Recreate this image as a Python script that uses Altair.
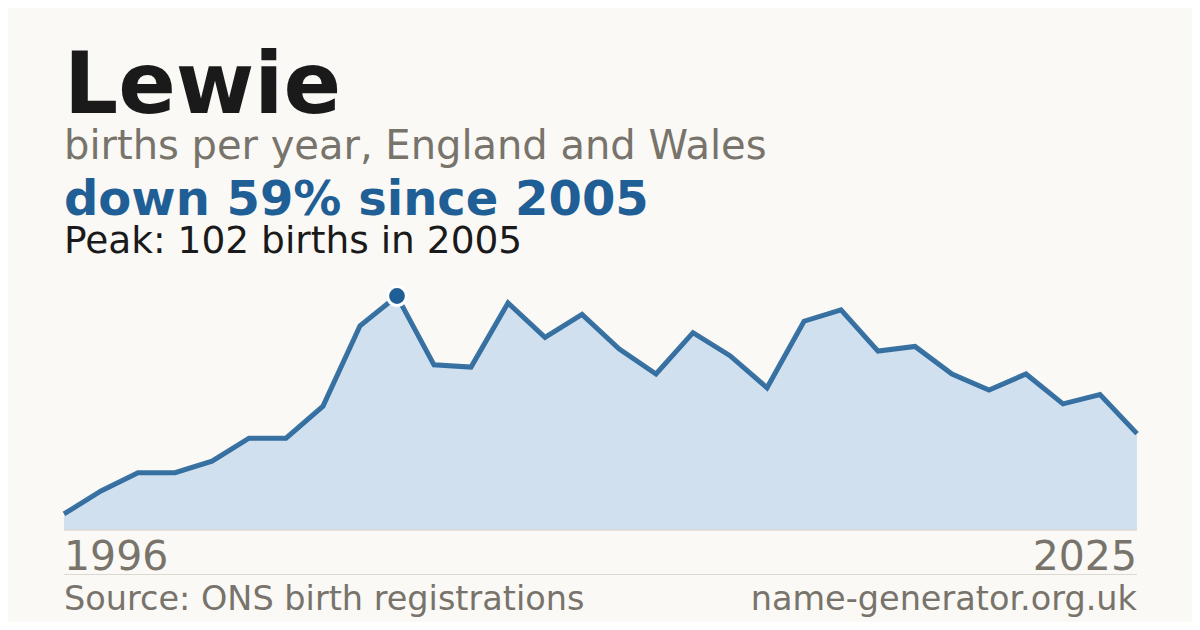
import altair as alt
import pandas as pd

name = "Lewie"
years = list(range(1996, 2026))
births = [7, 17, 25, 25, 30, 40, 40, 54, 89, 102,
          72, 71, 99, 84, 94, 79, 68, 86, 76, 62,
          91, 96, 78, 80, 68, 61, 68, 55, 59, 42]

subtitle = "births per year, England and Wales"
source = "Source: ONS birth registrations"
site = "name-generator.org.uk"

peak_val = max(births)
peak_year = years[births.index(peak_val)]
change = round((peak_val - births[-1]) / peak_val * 100)
headline = f"down {change}% since {peak_year}"
peak_text = f"Peak: {peak_val} births in {peak_year}"

df = pd.DataFrame({"year": years, "births": births})
peak_df = df[df["births"] == peak_val]

W, H = 1073, 234
FONT = "DejaVu Sans"
GREY = "#78736b"
BLUE = "#1f5f96"
DARK = "#1a1a1a"

x = alt.X("year:Q", scale=alt.Scale(domain=[years[0], years[-1]], nice=False, zero=False), axis=None)
y = alt.Y("births:Q", scale=alt.Scale(domain=[0, peak_val], nice=False), axis=None)

base = alt.Chart(df)
area = base.mark_area(color="#d0e0ef", opacity=1).encode(x=x, y=y)
line = base.mark_line(color=BLUE, strokeWidth=5, opacity=0.88).encode(x=x, y=y)
halo = alt.Chart(peak_df).mark_circle(size=480, color="white", opacity=1).encode(x=x, y=y)
point = alt.Chart(peak_df).mark_circle(size=250, color=BLUE, opacity=1).encode(x=x, y=y)

baseline = alt.Chart(pd.DataFrame({"a": [0]})).mark_rule(color="#dcd9d2", strokeWidth=1.5).encode(
    x=alt.value(0), x2=alt.value(W), y=alt.value(H))
sep = alt.Chart(pd.DataFrame({"a": [0]})).mark_rule(color="#dcd9d2", strokeWidth=1).encode(
    x=alt.value(0), x2=alt.value(W), y=alt.value(278.5))


def txt(t, yv, size, color, weight="normal", align="left", xv=0):
    return alt.Chart(pd.DataFrame({"t": [t]})).mark_text(
        font=FONT, fontSize=size, color=color, fontWeight=weight, align=align, baseline="alphabetic"
    ).encode(text="t:N", x=alt.value(xv), y=alt.value(yv))


texts = [
    txt(name, -183.5, 85, DARK, "bold"),
    txt(subtitle, -137, 40, GREY),
    txt(headline, -81, 48, BLUE, "bold"),
    txt(peak_text, -43, 37.5, DARK),
    txt(str(years[0]), 273.5, 41, GREY),
    txt(str(years[-1]), 273.5, 41, GREY, align="right", xv=W),
    txt(source, 313.5, 33.5, GREY),
    txt(site, 313.5, 33.5, GREY, align="right", xv=W),
]

chart = alt.layer(area, baseline, line, halo, point, sep, *texts).properties(
    width=W, height=H,
    autosize=alt.AutoSizeParams(type="none"),
    padding={"left": 56, "top": 288, "right": 55, "bottom": 92},
    background="#faf9f5",
).configure_view(stroke=None)

chart.save("out.html", embed_options={"renderer": "svg", "actions": False})
